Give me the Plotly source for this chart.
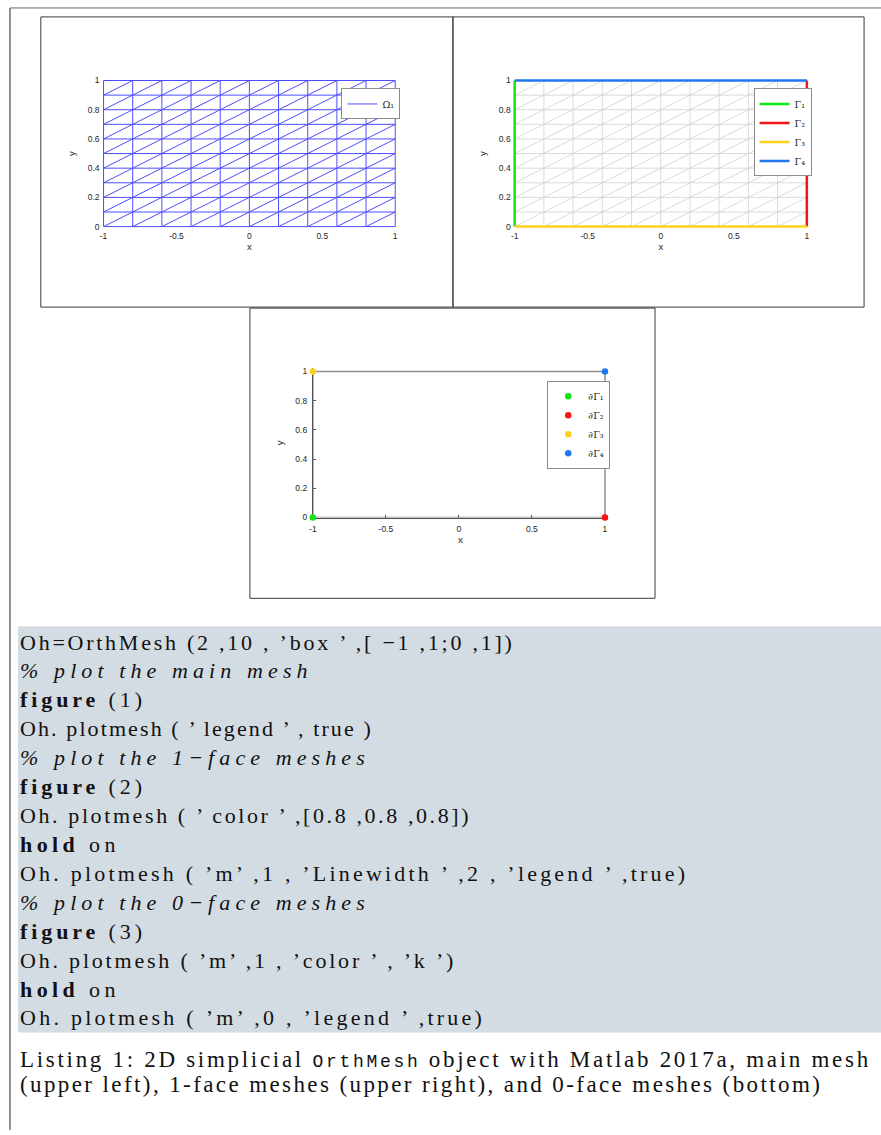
import plotly.graph_objects as go

W, H = 881, 1135

# ---------------- data ----------------
x_nodes = [-1.0, -0.8, -0.6, -0.4, -0.2, 0.0, 0.2, 0.4, 0.6, 0.8, 1.0]
y_nodes = [0.0, 0.1, 0.2, 0.3, 0.4, 0.5, 0.6, 0.7, 0.8, 0.9, 1.0]

x_tickvals = [-1, -0.5, 0, 0.5, 1]
x_ticktext = ["-1", "-0.5", "0", "0.5", "1"]
y_tickvals = [0, 0.2, 0.4, 0.6, 0.8, 1]
y_ticktext = ["0", "0.2", "0.4", "0.6", "0.8", "1"]

main_name = "Ω₁"
face1_names = ["Γ₁", "Γ₂", "Γ₃", "Γ₄"]
face1_colors = ["#12e612", "#f51515", "#ffd21f", "#1f78f0"]
face0_names = ["∂Γ₁", "∂Γ₂", "∂Γ₃", "∂Γ₄"]
face0_colors = ["#12e612", "#f51515", "#ffd21f", "#1f78f0"]
face0_x = [-1.0, 1.0, -1.0, 1.0]
face0_y = [0.0, 0.0, 1.0, 1.0]

code_lines = [
    "Oh=OrthMesh (2 ,10 , ’box ’ ,[ −1 ,1;0 ,1])",
    "<i>% plot the main mesh</i>",
    "<b>figure</b> (1)",
    "Oh. plotmesh ( ’ legend ’ , true )",
    "<i>% plot the 1−face meshes</i>",
    "<b>figure</b> (2)",
    "Oh. plotmesh ( ’ color ’ ,[0.8 ,0.8 ,0.8])",
    "<b>hold</b> on",
    "Oh. plotmesh ( ’m’ ,1 , ’Linewidth ’ ,2 , ’legend ’ ,true)",
    "<i>% plot the 0−face meshes</i>",
    "<b>figure</b> (3)",
    "Oh. plotmesh ( ’m’ ,1 , ’color ’ , ’k ’)",
    "<b>hold</b> on",
    "Oh. plotmesh ( ’m’ ,0 , ’legend ’ ,true)",
]
# letter spacing (px) per code line, tuned to the listing's fixed columns
code_spacing = [2.75, 5.1, 3.9, 2.1, 5.1, 3.9, 2.6, 4.4, 3.2, 5.1, 3.9, 2.8, 4.4, 3.25]
caption_lines = [
    "Listing 1: 2D simplicial <span style='font-family:Liberation Mono;font-size:18px'>OrthMesh</span> object with Matlab 2017a, main mesh",
    "(upper left), 1-face meshes (upper right), and 0-face meshes (bottom)",
]
caption_spacing = [2.7, 2.4]


def mesh_edges():
    xs, ys = [], []
    for y in y_nodes:
        xs += [x_nodes[0], x_nodes[-1], None]
        ys += [y, y, None]
    for x in x_nodes:
        xs += [x, x, None]
        ys += [y_nodes[0], y_nodes[-1], None]
    for i in range(len(x_nodes) - 1):
        for j in range(len(y_nodes) - 1):
            xs += [x_nodes[i], x_nodes[i + 1], None]
            ys += [y_nodes[j], y_nodes[j + 1], None]
    return xs, ys


def boundary(k):
    # 0: left, 1: right, 2: bottom, 3: top
    if k == 0:
        return [x_nodes[0]] * len(y_nodes), y_nodes
    if k == 1:
        return [x_nodes[-1]] * len(y_nodes), y_nodes
    if k == 2:
        return x_nodes, [y_nodes[0]] * len(x_nodes)
    return x_nodes, [y_nodes[-1]] * len(x_nodes)


mx, my = mesh_edges()
fig = go.Figure()

# ---- figure 1: main mesh ----
fig.add_trace(go.Scatter(x=mx, y=my, mode="lines", name=main_name,
                         line=dict(color="#4d4dff", width=1),
                         xaxis="x", yaxis="y", legend="legend", hoverinfo="skip"))

# ---- figure 2: 1-face meshes ----
fig.add_trace(go.Scatter(x=mx, y=my, mode="lines", showlegend=False,
                         line=dict(color="#d0d0d0", width=0.8),
                         xaxis="x2", yaxis="y2", hoverinfo="skip"))
for k in range(4):
    bx, by = boundary(k)
    fig.add_trace(go.Scatter(x=bx, y=by, mode="lines", name=face1_names[k],
                             line=dict(color=face1_colors[k], width=2.5),
                             xaxis="x2", yaxis="y2", legend="legend2"))

# ---- figure 3: 0-face meshes ----
bxs, bys = [], []
for k in range(4):
    bx, by = boundary(k)
    bxs += list(bx) + [None]
    bys += list(by) + [None]
fig.add_trace(go.Scatter(x=bxs, y=bys, mode="lines", showlegend=False,
                         line=dict(color="#8f8f8f", width=1.5),
                         xaxis="x3", yaxis="y3", hoverinfo="skip"))
for k in range(4):
    fig.add_trace(go.Scatter(x=[face0_x[k]], y=[face0_y[k]], mode="markers",
                             name=face0_names[k],
                             marker=dict(color=face0_colors[k], size=6.5),
                             xaxis="x3", yaxis="y3", legend="legend3",
                             cliponaxis=False))


def px_x(p):
    return p / W


def px_y(p):
    return 1 - p / H


tickfont = dict(family="Liberation Sans", size=8.5, color="#262626")
titlefont = dict(family="Liberation Sans", size=9.5, color="#262626")


def axes_pair(xl, xr, yt, yb, pad, anchor_x, anchor_y, show_line):
    """xl/xr: pixel of x=-1 / x=1 ; yt/yb: pixel of y=1 / y=0 ;
    pad = (left, right, top, bottom) px of extra room so edge lines are not clipped."""
    pl, pr, pt, pb = pad
    x0, x1 = x_nodes[0], x_nodes[-1]
    y0, y1 = y_nodes[0], y_nodes[-1]
    ux = (x1 - x0) / (xr - xl)
    uy = (y1 - y0) / (yb - yt)
    lab_x = 3 - pb
    lab_y = 3 - pl
    xa = dict(domain=[px_x(xl - pl), px_x(xr + pr)], anchor=anchor_x,
              range=[x0 - pl * ux, x1 + pr * ux],
              tickvals=x_tickvals, ticktext=x_ticktext, tickfont=tickfont,
              showgrid=False, zeroline=False,
              showline=show_line, linecolor="#4d4d4d", linewidth=1,
              ticks="inside" if show_line else "", ticklen=3, tickcolor="#4d4d4d",
              ticklabelstandoff=max(lab_x, 0), layer="below traces",
              title=dict(text="x", font=titlefont, standoff=3))
    ya = dict(domain=[px_y(yb + pb), px_y(yt - pt)], anchor=anchor_y,
              range=[y0 - pb * uy, y1 + pt * uy],
              tickvals=y_tickvals, ticktext=y_ticktext, tickfont=tickfont,
              showgrid=False, zeroline=False,
              showline=show_line, linecolor="#4d4d4d", linewidth=1,
              ticks="inside" if show_line else "", ticklen=3, tickcolor="#4d4d4d",
              ticklabelstandoff=max(lab_y, 0), layer="below traces",
              title=dict(text="y", font=titlefont, standoff=10))
    return xa, ya


xa1, ya1 = axes_pair(100, 393, 79, 226, (3, 3, 3, 3), "y", "x", False)
xa2, ya2 = axes_pair(513, 806.5, 79, 226, (3, 3, 3, 3), "y2", "x2", False)
xa3, ya3 = axes_pair(310.3, 603.7, 371.7, 518.7, (0, 3, 3, 0), "y3", "x3", True)
fig.update_layout(xaxis=xa1, yaxis=ya1, xaxis2=xa2, yaxis2=ya2, xaxis3=xa3, yaxis3=ya3)

legfont = dict(family="DejaVu Serif", size=9.5, color="#262626")
legcommon = dict(xanchor="left", yanchor="top", bgcolor="white",
                 bordercolor="#8c8c8c", borderwidth=1, font=legfont,
                 itemwidth=30, tracegroupgap=0)
fig.update_layout(
    legend=dict(x=px_x(339), y=px_y(87), **legcommon),
    legend2=dict(x=px_x(753), y=px_y(87), **legcommon),
    legend3=dict(x=px_x(545.7), y=px_y(381), **legcommon),
)

# ---- frames & code background ----
shapes = []
shapes.append(dict(type="rect", xref="paper", yref="paper",
                   x0=px_x(14), x1=1.0, y0=px_y(1037), y1=px_y(628),
                   fillcolor="#d4dce3", line=dict(width=0), layer="below"))
shapes.append(dict(type="line", xref="paper", yref="paper",
                   x0=px_x(6), x1=1.0, y0=px_y(6), y1=px_y(6),
                   line=dict(color="#6a6a6a", width=1)))
shapes.append(dict(type="line", xref="paper", yref="paper",
                   x0=px_x(6), x1=px_x(6), y0=0, y1=px_y(6),
                   line=dict(color="#4a4a4a", width=1.2)))
for (x0, x1, y0, y1) in [(37, 451, 15, 307), (451, 864, 15, 307), (247, 654, 308, 600)]:
    shapes.append(dict(type="rect", xref="paper", yref="paper",
                       x0=px_x(x0), x1=px_x(x1), y0=px_y(y1), y1=px_y(y0),
                       line=dict(color="#3a3a3a", width=1), fillcolor="rgba(0,0,0,0)"))
fig.update_layout(shapes=shapes)

CODE_SIZE = 22
CAPTION_SIZE = 23
annotations = []
for i, t in enumerate(code_lines):
    annotations.append(dict(
        text="<span style='letter-spacing:%.2fpx'>%s</span>" % (code_spacing[i], t),
        xref="paper", yref="paper", x=px_x(14), y=px_y(644 + 29.1 * i),
        xanchor="left", yanchor="middle", showarrow=False,
        font=dict(family="Liberation Serif", size=CODE_SIZE, color="#111111")))
for i, t in enumerate(caption_lines):
    annotations.append(dict(
        text="<span style='letter-spacing:%.2fpx'>%s</span>" % (caption_spacing[i], t),
        xref="paper", yref="paper", x=px_x(14), y=px_y(1064 + 25.5 * i),
        xanchor="left", yanchor="middle", showarrow=False,
        font=dict(family="Liberation Serif", size=CAPTION_SIZE, color="#111111")))
fig.update_layout(annotations=annotations)

fig.update_layout(width=W, height=H, autosize=False,
                  margin=dict(l=0, r=0, t=0, b=0),
                  paper_bgcolor="white", plot_bgcolor="rgba(0,0,0,0)",
                  showlegend=True)

fig.write_html(
    "out.html",
    config={"displayModeBar": False},
    post_script="document.body.style.margin='0px';document.body.style.padding='0px';"
                "document.documentElement.style.overflow='hidden';",
)
